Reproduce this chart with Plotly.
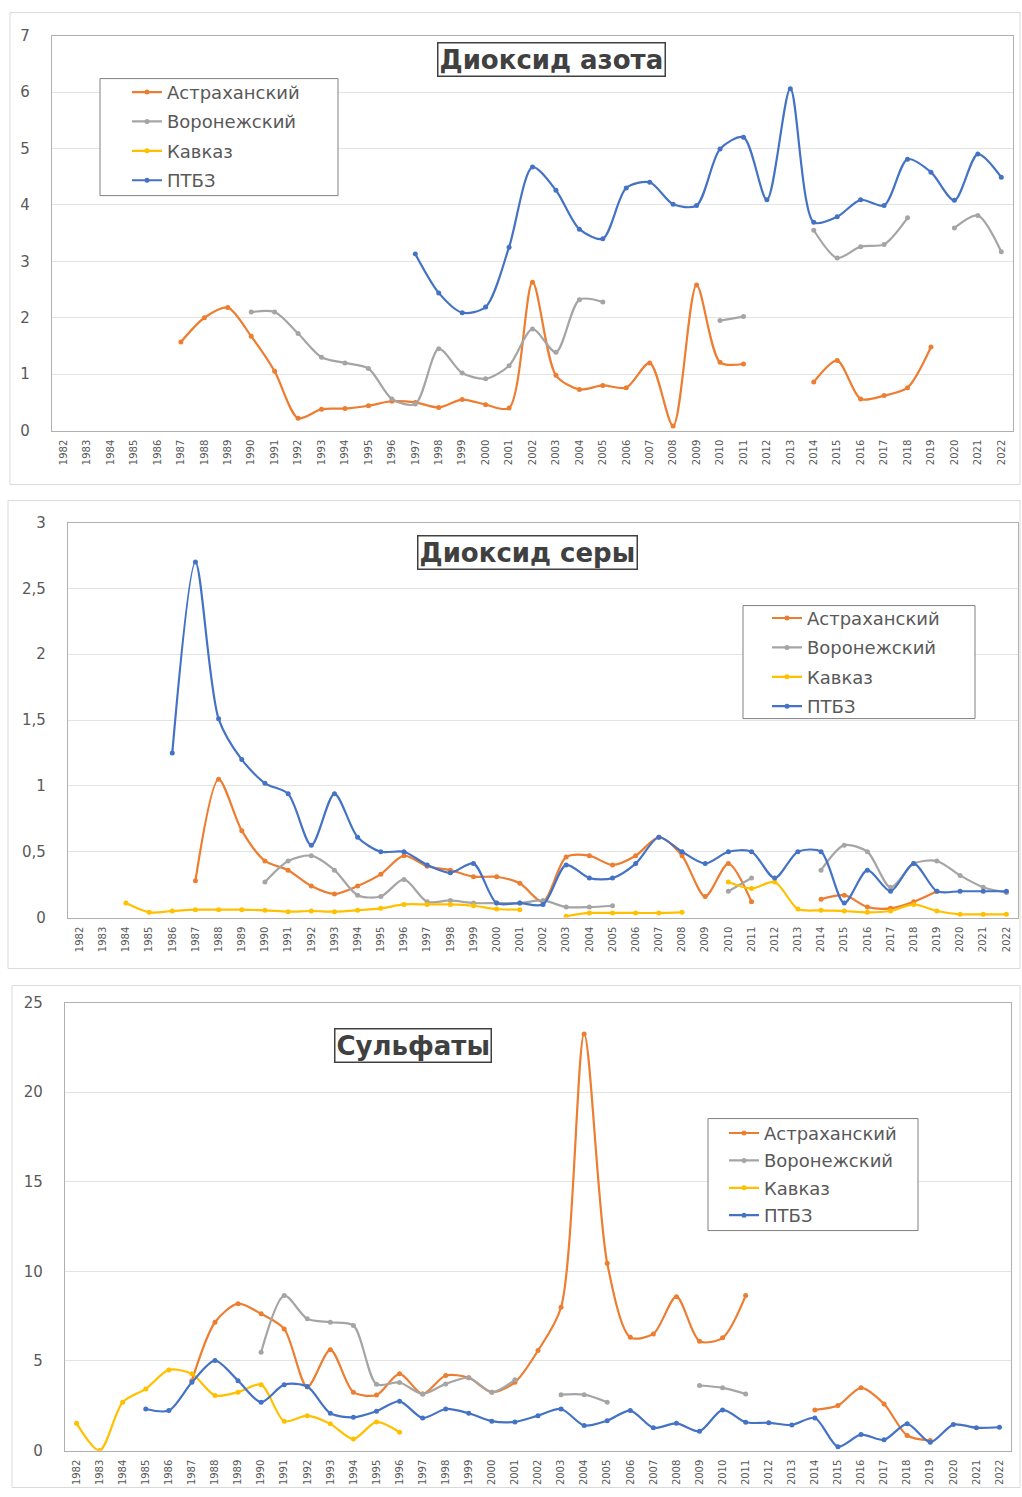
import plotly.graph_objects as go

years = [str(y) for y in range(1982, 2023)]
N = None

# ---- Panel 1: Диоксид азота ----
no2_ast = [N, N, N, N, N, 1.57, 2.0, 2.18, 1.67, 1.05, 0.22, 0.38, 0.39, 0.44, 0.52, 0.5, 0.41, 0.55, 0.46, 0.4,
           2.63, 0.98, 0.73, 0.8, 0.76, 1.2, 0.08, 2.58, 1.21, 1.18, N, N, 0.86, 1.24, 0.56, 0.62, 0.76, 1.48, N, N, N]
no2_vor = [N, N, N, N, N, N, N, N, 2.1, 2.1, 1.72, 1.3, 1.2, 1.1, 0.56, 0.47, 1.45, 1.02, 0.92, 1.15,
           1.8, 1.39, 2.32, 2.28, N, N, N, N, 1.95, 2.02, N, N, 3.55, 3.06, 3.26, 3.3, 3.77, N, 3.59, 3.81, 3.17]
no2_kav = [N] * 41
no2_ptbz = [N, N, N, N, N, N, N, N, N, N, N, N, N, N, N, 3.13, 2.44, 2.09, 2.19, 3.25,
            4.67, 4.26, 3.57, 3.4, 4.3, 4.4, 4.01, 3.99, 4.99, 5.2, 4.09, 6.06, 3.69, 3.79, 4.09, 3.99, 4.81, 4.58, 4.08, 4.9, 4.49]

# ---- Panel 2: Диоксид серы ----
so2_ast = [N, N, N, N, N, 0.28, 1.05, 0.66, 0.43, 0.36, 0.24, 0.18, 0.24, 0.33, 0.47, 0.39, 0.36, 0.31, 0.31, 0.26,
           0.12, 0.46, 0.47, 0.40, 0.47, 0.61, 0.47, 0.16, 0.41, 0.12, N, N, 0.14, 0.17, 0.08, 0.07, 0.12, 0.2, N, N, N]
so2_vor = [N, N, N, N, N, N, N, N, 0.27, 0.43, 0.47, 0.36, 0.17, 0.16, 0.29, 0.12, 0.13, 0.11, 0.11, 0.11,
           0.13, 0.08, 0.08, 0.09, N, N, N, N, 0.2, 0.3, N, N, 0.36, 0.55, 0.5, 0.23, 0.41, 0.43, 0.32, 0.23, 0.19]
so2_kav = [N, N, 0.11, 0.04, 0.05, 0.06, 0.06, 0.06, 0.055, 0.045, 0.05, 0.045, 0.055, 0.07, 0.1, 0.1, 0.1, 0.09, 0.065, 0.06,
           N, 0.01, 0.035, 0.035, 0.035, 0.035, 0.04, N, 0.27, 0.22, 0.27, 0.065, 0.055, 0.05, 0.04, 0.05, 0.1, 0.05, 0.025, 0.025, 0.025]
so2_ptbz = [N, N, N, N, 1.25, 2.70, 1.51, 1.2, 1.02, 0.94, 0.55, 0.94, 0.61, 0.50, 0.50, 0.40, 0.34, 0.41, 0.11, 0.11,
            0.10, 0.40, 0.30, 0.30, 0.41, 0.61, 0.50, 0.41, 0.50, 0.50, 0.30, 0.50, 0.50, 0.11, 0.36, 0.2, 0.41, 0.2, 0.2, 0.2, 0.2]

# ---- Panel 3: Сульфаты ----
sul_ast = [N, N, N, N, N, 3.9, 7.16, 8.2, 7.63, 6.79, 3.55, 5.62, 3.26, 3.1, 4.28, 3.16, 4.19, 4.06, 3.26, 3.81,
           5.58, 8.0, 23.25, 10.45, 6.32, 6.51, 8.59, 6.1, 6.29, 8.65, N, N, 2.27, 2.51, 3.5, 2.6, 0.84, 0.56, N, N, N]
sul_vor = [N, N, N, N, N, N, N, N, 5.49, 8.65, 7.35, 7.16, 6.98, 3.7, 3.8, 3.16, 3.72, 4.06, 3.26, 3.95,
           N, 3.12, 3.12, 2.7, N, N, N, 3.63, 3.5, 3.16, N, N, N, N, N, N, N, N, N, N, N]
sul_kav = [1.52, 0.0, 2.7, 3.44, 4.5, 4.28, 3.07, 3.26, 3.68, 1.64, 1.95, 1.49, 0.65, 1.6, 1.02, N, N, N, N, N,
           N, N, N, N, N, N, N, N, N, N, N, N, N, N, N, N, N, N, N, N, N]
sul_ptbz = [N, N, N, 2.32, 2.23, 3.81, 5.02, 3.9, 2.7, 3.68, 3.57, 2.08, 1.86, 2.2, 2.75, 1.82, 2.32, 2.08, 1.64, 1.6,
            1.95, 2.32, 1.4, 1.67, 2.23, 1.27, 1.52, 1.08, 2.27, 1.58, 1.55, 1.43, 1.82, 0.22, 0.89, 0.6, 1.49, 0.47, 1.45, 1.27, 1.3]

names = ["Астраханский", "Воронежский", "Кавказ", "ПТБЗ"]
colors = ["#ED7D31", "#A5A5A5", "#FFC000", "#4472C4"]
titles = ["Диоксид азота", "Диоксид серы", "Сульфаты"]

panels = [
    [no2_ast, no2_vor, no2_kav, no2_ptbz],
    [so2_ast, so2_vor, so2_kav, so2_ptbz],
    [sul_ast, sul_vor, sul_kav, sul_ptbz],
]

W, H = 1022, 1497


def fy(y):
    # page pixel (top-down) -> figure pixel, compensating the capture's vertical fit
    return min(max((y - 8.4) / 0.988, 0.5), H - 0.5)


# plot areas in pixels: (left, right, top, bottom)
areas = [(52, 1013, 35, 430), (68, 1018, 522, 917), (65, 1011, 1002, 1450)]
yranges = [(0, 7, 1), (0, 3, 0.5), (0, 25, 5)]
frames = [(10, 1020, 12, 484), (8, 1020, 500, 968), (12, 1020, 985, 1497)]
legbox = [(100, 338, 78, 195), (743, 975, 605, 718), (708, 918, 1118, 1230)]
legtext = [(168, 92, 3), (808, 618, 3), (765, 1133, 1)]
titlepos = [(551, 59), (527, 552), (413, 1045)]

fig = go.Figure()
for p, series in enumerate(panels):
    sfx = "" if p == 0 else str(p + 1)
    for i, vals in enumerate(series):
        fig.add_trace(go.Scatter(
            x=years, y=vals, name=names[i], mode="lines+markers",
            line=dict(color=colors[i], width=2.2, shape="spline", smoothing=0.8),
            marker=dict(color=colors[i], size=5),
            connectgaps=False,
            xaxis="x" + sfx, yaxis="y" + sfx,
            legend="legend" + sfx, legendgroup=f"g{p}{i}",
        ))

layout = dict(
    width=W, height=H, margin=dict(l=0, r=0, t=0, b=0),
    paper_bgcolor="white", plot_bgcolor="white",
    separators=", ", showlegend=True,
    font=dict(family="DejaVu Sans", color="#595959"),
)
shapes = []
annotations = []
for p in range(3):
    sfx = "" if p == 0 else str(p + 1)
    l, r, t, b = areas[p]
    y0, y1, dt = yranges[p]
    layout["xaxis" + sfx] = dict(
        domain=[l / W, r / W], anchor="y" + sfx, type="category",
        range=[-0.5, 40.5], tickangle=-90, tickfont=dict(size=10, color="#595959"),
        showline=True, linecolor="#B0B0B0", linewidth=1.2, mirror=True,
        showgrid=False, ticks="", ticklabelstandoff=4, fixedrange=True,
    )
    layout["yaxis" + sfx] = dict(
        domain=[1 - fy(b) / H, 1 - fy(t) / H], anchor="x" + sfx,
        range=[y0, y1], dtick=dt, tickfont=dict(size=15, color="#595959"),
        showline=True, linecolor="#B0B0B0", linewidth=1.2, mirror=True,
        showgrid=True, gridcolor="#E3E3E3", gridwidth=1, zeroline=False,
        ticks="", ticklabelstandoff=18, fixedrange=True,
    )
    tx0, row1, gap = legtext[p]
    layout["legend" + sfx] = dict(
        x=(tx0 - 41) / W, y=1 - (fy(row1) - 19) / H, xanchor="left", yanchor="top",
        bgcolor="rgba(0,0,0,0)", borderwidth=0,
        font=dict(size=18, color="#595959", family="DejaVu Sans"),
        traceorder="grouped", tracegroupgap=gap, itemwidth=30,
    )
    bl, br, bt, bb = legbox[p]
    shapes.append(dict(type="rect", xref="paper", yref="paper",
                       x0=bl / W, x1=br / W, y0=1 - fy(bb) / H, y1=1 - fy(bt) / H,
                       line=dict(color="#808080", width=1), fillcolor="white", layer="above"))
    fl, fr, ft, fb = frames[p]
    shapes.append(dict(type="rect", xref="paper", yref="paper",
                       x0=fl / W, x1=fr / W, y0=1 - fy(fb) / H, y1=1 - fy(ft) / H,
                       line=dict(color="#D9D9D9", width=1), layer="below"))
    tx, ty = titlepos[p]
    annotations.append(dict(
        text="<b>" + titles[p] + "</b>", xref="paper", yref="paper",
        x=tx / W, y=1 - fy(ty) / H, xanchor="center", yanchor="middle", showarrow=False,
        font=dict(size=26, color="#404040", family="DejaVu Sans"),
        bordercolor="#404040", borderwidth=1.5, borderpad=1, bgcolor="white",
    ))
layout["shapes"] = shapes
layout["annotations"] = annotations
fig.update_layout(**layout)

fig.write_html("out.html", config={"displayModeBar": False},
               post_script="document.body.style.margin='0';document.body.style.overflow='hidden';")
